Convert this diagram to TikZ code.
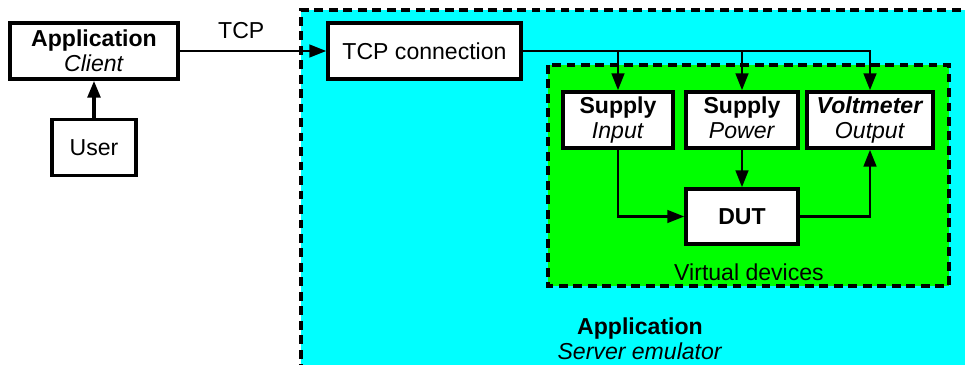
\documentclass[tikz,border=0pt]{standalone}
\usepackage{fontspec}
\setmainfont{Liberation Sans}
\usetikzlibrary{arrows.meta,positioning}
\definecolor{aqua}{HTML}{00FFFF}
\definecolor{lime}{HTML}{00FF00}
\tikzset{
  block/.style={
    draw=black,
    fill=white,
    line width=2.5pt,
    align=center,
    inner sep=0pt,
    minimum height=1.4cm,
    font=\fontsize{16.4}{17.8}\selectfont
  },
  wire/.style={
    line width=1.8pt,
    -{Triangle[length=12pt,width=9pt]}
  },
  zone/.style={
    line width=2.5pt,
    dash pattern=on 6.3pt off 4pt
  },
  caption/.style={
    align=center,
    inner sep=0pt,
    font=\fontsize{16.4}{17.8}\selectfont
  }
}

\begin{document}
\begin{tikzpicture}[x=0.025cm,y=-0.025cm]
  \useasboundingbox (0,0) rectangle (965,365);

  % --- Server emulator area ---
  \fill[aqua] (301,10) rectangle (975,375);
  \draw[zone] (975,10) -- (301,10) -- (301,375);
  \node[caption] (server) at (640,339) {\textbf{Application}\\\textit{Server emulator}};

  % --- Virtual devices area ---
  \draw[zone,fill=lime] (548,65) rectangle (949,286);
  \node[caption] (virtual) at (749,272) {Virtual devices};

  % --- Client side ---
  \node[block,minimum width=4.2cm] (client) at (94,51) {\textbf{Application}\\\textit{Client}};
  \node[block,minimum width=2.1cm] (user) at (94,147.5) {User};

  % --- Server side ---
  \node[block,minimum width=4.825cm] (tcp) at (424.5,51) {TCP connection};
  \node[block,minimum width=2.75cm] (input) at (618,120) {\textbf{Supply}\\\textit{Input}};
  \node[block,minimum width=2.8cm] (power) at (742,120) {\textbf{Supply}\\\textit{Power}\vphantom{p}};
  \node[block,minimum width=3.15cm] (volt) at (870,120) {\textbf{\textit{Voltmeter}}\\\textit{Output}};
  \node[block,minimum width=2.8cm,minimum height=1.375cm] (dut) at (742,216.5) {\textbf{DUT}};

  % --- Connections ---
  \draw[wire,line width=2.5pt] (user) -- (client);
  \draw[wire] (client) -- node[caption,above=8pt,pos=0.42] {TCP} (tcp);
  \draw[wire] (tcp.east) -| (volt.north);
  \draw[wire] (input.north |- tcp.east) -- (input.north);
  \draw[wire] (power.north |- tcp.east) -- (power.north);
  \draw[wire] (input.south) |- (dut.west);
  \draw[wire] (power) -- (dut);
  \draw[wire] (dut.east) -| (volt.south);

\end{tikzpicture}
\end{document}
